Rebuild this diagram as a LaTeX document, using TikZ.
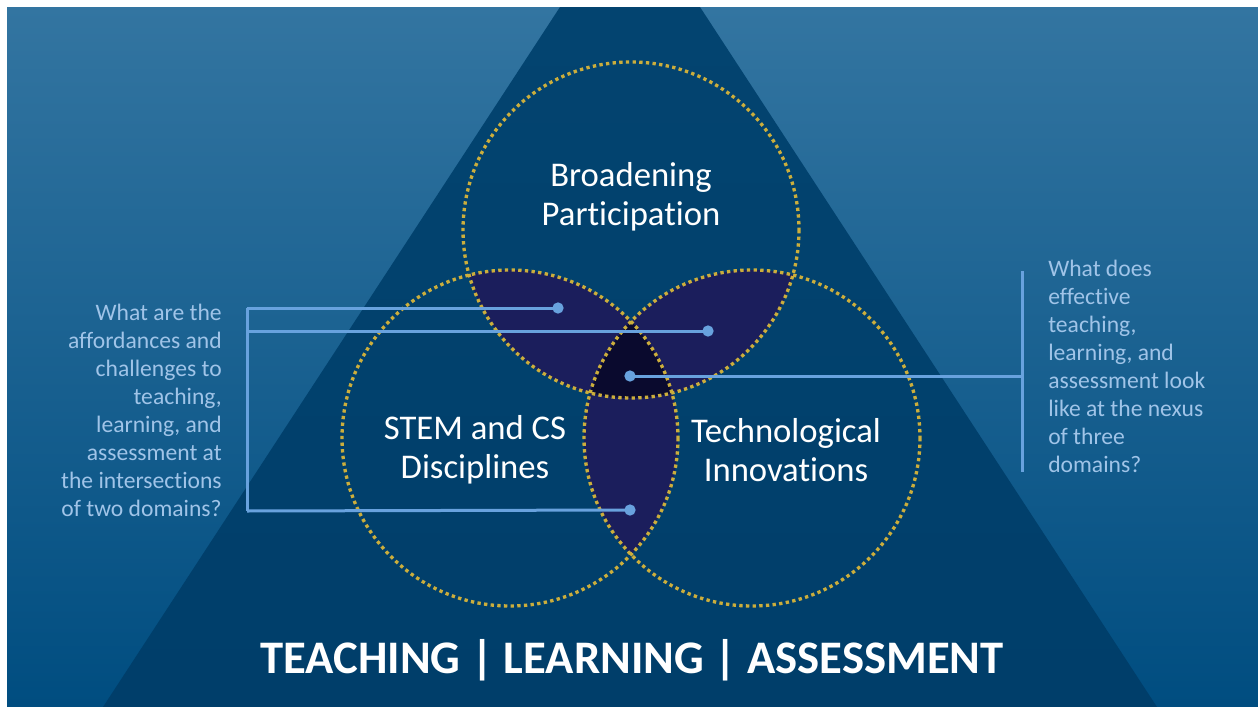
\documentclass[tikz,border=0pt]{standalone}
\usepackage{fontspec}
\setmainfont{Carlito}[Ligatures=NoCommon]

\definecolor{bgtop}{RGB}{51,117,161}
\definecolor{bgbottom}{RGB}{0,77,128}
\definecolor{pyrtop}{RGB}{3,68,112}
\definecolor{pyrbottom}{RGB}{0,62,106}
\definecolor{ringgold}{RGB}{204,174,60}
\definecolor{linkblue}{RGB}{104,162,222}
\definecolor{qblue}{RGB}{160,196,232}
\definecolor{twofold}{RGB}{27,30,92}
\definecolor{threefold}{RGB}{10,10,46}

\begin{document}
\begin{tikzpicture}[x=0.75pt,y=0.75pt,yscale=-1,xscale=1,
  ring/.style={draw=ringgold, line width=2.5pt, dash pattern=on 2.5pt off 2.5pt},
  link/.style={draw=linkblue, line width=2.25pt},
  tip/.style={circle, fill=linkblue, inner sep=0pt, minimum size=8.5pt},
  fieldname/.style={text=white, align=center, font=\fontsize{26}{29.5}\selectfont},
  question/.style={text=qblue, inner sep=0pt, font=\fontsize{17.7}{21}\selectfont},
  banner/.style={text=white, font=\fontsize{35}{40}\selectfont\bfseries}]
\useasboundingbox (0,0) rectangle (1258,707);

%Shape: Rectangle [background]
\shade [top color=bgtop, bottom color=bgbottom] (7,7) rectangle (1258,707);
%Shape: Trapezoid [pyramid]
\shade [top color=pyrtop, bottom color=pyrbottom] (560,7) -- (700,7) -- (1157,707) -- (103,707) -- cycle;

% circle centres
\coordinate (cBP) at (631,230);
\coordinate (cSC) at (510,438);
\coordinate (cTI) at (752,438);
\def\rad{168}

%Shape: Intersections of two domains
\begin{scope}
  \clip (cBP) circle (\rad);
  \fill [twofold] (cSC) circle (\rad);
  \fill [twofold] (cTI) circle (\rad);
\end{scope}
\begin{scope}
  \clip (cSC) circle (\rad);
  \fill [twofold] (cTI) circle (\rad);
\end{scope}
%Shape: Intersection of three domains
\begin{scope}
  \clip (cBP) circle (\rad);
  \clip (cSC) circle (\rad);
  \fill [threefold] (cTI) circle (\rad);
\end{scope}

%Shape: Circle
\draw [ring] (cBP) circle (\rad);
\draw [ring] (cSC) circle (\rad);
\draw [ring] (cTI) circle (\rad);

% Text Node
\node [fieldname] (bp) at (631,197) {Broadening\\Participation};
% Text Node
\node [fieldname] (sc) at (475,450) {STEM and CS\\Disciplines};
% Text Node
\node [fieldname] (ti) at (786,450) {Technological\\Innovations};

% Dots on the overlaps
\node [tip] (bpsc) at (558,308) {};
\node [tip] (bpti) at (708,331) {};
\node [tip] (all) at (630,376) {};
\node [tip] (scti) at (630,510) {};

% Bracket, two domains
\coordinate (lt) at (247,308);
\coordinate (lm) at (247,331);
\coordinate (lb) at (247,511);
\draw [link] (lt) -- (lb);
\draw [link] (lt) -- (bpsc.center);
\draw [link] (lm) -- (bpti.center);
\draw [link] (lb) -- (scti.center);

% Bracket, three domains
\coordinate (rt) at (1022,271);
\coordinate (rm) at (1022,376);
\coordinate (rb) at (1022,472);
\draw [link] (rt) -- (rb);
\draw [link] (all.center) -- (rm);

% Text Node
\node [question, anchor=east, align=right] (twoq) at (222,410) {What are the\\affordances and\\challenges to\\teaching,\\learning, and\\assessment at\\the intersections\\of two domains?};
% Text Node
\node [question, anchor=west, align=left] (threeq) at (1048,366) {What does\\effective\\teaching,\\learning, and\\assessment look\\like at the nexus\\of three\\domains?};

% Text Node
\node [banner] (tla) at (632,660) {TEACHING | LEARNING | ASSESSMENT};

\end{tikzpicture}
\end{document}
